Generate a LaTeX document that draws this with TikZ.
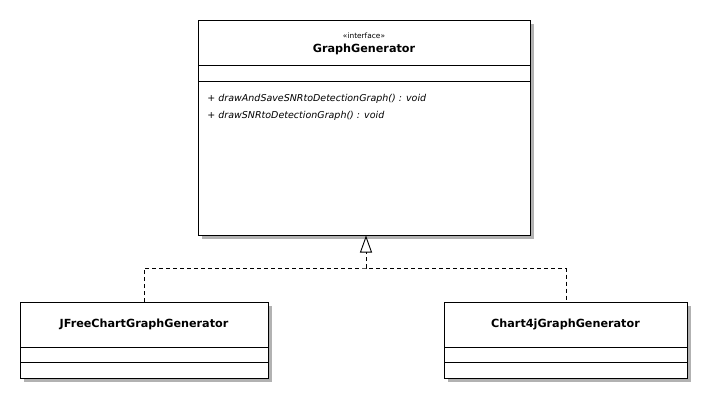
\documentclass[tikz,border=0pt]{standalone}
\usepackage{fontspec}
\setmainfont{DejaVu Sans}
\usetikzlibrary{arrows.meta}
\begin{document}
\begin{tikzpicture}[x=1pt,y=-1pt,line width=0.9pt,
  cls/.style={draw=black,fill=white,rectangle,inner sep=0pt,anchor=north west},
  shadowbox/.style={fill=black!30,draw=none},
  cname/.style={font=\bfseries\fontsize{11.2}{13}\selectfont,inner sep=0pt},
  meth/.style={font=\itshape\fontsize{9.5}{11}\selectfont,inner sep=0pt,anchor=west},
  stereo/.style={font=\fontsize{7.4}{9}\selectfont,inner sep=0pt},
  realize/.style={dash pattern=on 4pt off 3pt}]
\useasboundingbox (0,0) rectangle (711,403);
\fill[white] (0,0) rectangle (711,403);
% shadows
\fill[shadowbox] (202,24) rectangle (534,239);
\fill[shadowbox] (24,306) rectangle (272,382);
\fill[shadowbox] (448,306) rectangle (691,382);
% classes
\node[cls,minimum width=332pt,minimum height=215pt] (gg) at (198,20) {};
\draw (198,65) -- (530,65);
\draw (198,81) -- (530,81);
\node[stereo] (st) at (364,36) {«interface»};
\node[cname] (ggname) at (364,49) {GraphGenerator};
\node[meth] (m1) at (207,99) {+ drawAndSaveSNRtoDetectionGraph() : void};
\node[meth] (m2) at (207,116) {+ drawSNRtoDetectionGraph() : void};

\node[cls,minimum width=248pt,minimum height=76pt] (jf) at (20,302) {};
\draw (20,347) -- (268,347);
\draw (20,362) -- (268,362);
\node[cname] (jfname) at (144,324) {JFreeChartGraphGenerator};

\node[cls,minimum width=243pt,minimum height=76pt] (c4) at (444,302) {};
\draw (444,347) -- (687,347);
\draw (444,362) -- (687,362);
\node[cname] (c4name) at (565.5,324) {Chart4jGraphGenerator};

% realization connectors
\coordinate (join) at (366,268);
\draw[realize] (jf.north) |- (join) -| (c4.north);
\draw[realize,-{Triangle[open,length=17pt,width=12pt,line width=0.9pt]}] (join) -- (366,235.5);
\end{tikzpicture}
\end{document}
